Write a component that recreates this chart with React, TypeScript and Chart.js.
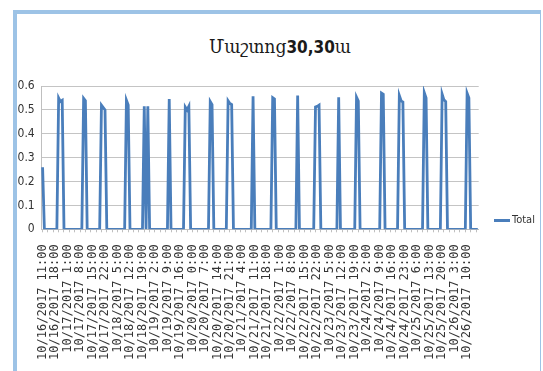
import { useEffect, useRef } from 'react';
import { Chart, registerables } from 'chart.js';

Chart.register(...registerables);

const TITLE_TEXT = 'Մաշտոց';
const TITLE_NUM = '30,30';
const TITLE_SUFFIX = 'ա';
const SERIES_NAME = 'Total';

// Visible category labels (one every 7 hourly categories)
const TICK_LABELS = [
  '10/16/2017 11:00', '10/16/2017 18:00', '10/17/2017 1:00', '10/17/2017 8:00',
  '10/17/2017 15:00', '10/17/2017 22:00', '10/18/2017 5:00', '10/18/2017 12:00',
  '10/18/2017 19:00', '10/19/2017 2:00', '10/19/2017 9:00', '10/19/2017 16:00',
  '10/20/2017 0:00', '10/20/2017 7:00', '10/20/2017 14:00', '10/20/2017 21:00',
  '10/21/2017 4:00', '10/21/2017 11:00', '10/21/2017 18:00', '10/22/2017 1:00',
  '10/22/2017 8:00', '10/22/2017 15:00', '10/22/2017 22:00', '10/23/2017 5:00',
  '10/23/2017 12:00', '10/23/2017 19:00', '10/24/2017 2:00', '10/24/2017 9:00',
  '10/24/2017 16:00', '10/24/2017 23:00', '10/25/2017 6:00', '10/25/2017 13:00',
  '10/25/2017 20:00', '10/26/2017 3:00', '10/26/2017 10:00',
];
const LABEL_EVERY = 7;

const Y_TICKS = ['0', '0.1', '0.2', '0.3', '0.4', '0.5', '0.6'];

// Hourly "Total" values
const TOTAL = [
  0.26, 0, 0, 0, 0, 0, 0, 0, 0, 0.55,
  0.535, 0.54, 0, 0, 0, 0, 0, 0, 0, 0,
  0, 0, 0, 0.548, 0.538, 0, 0, 0, 0, 0,
  0, 0, 0, 0.52, 0.51, 0.5, 0, 0, 0, 0,
  0, 0, 0, 0, 0, 0, 0, 0.54, 0.52, 0,
  0, 0, 0, 0, 0, 0, 0, 0.515, 0, 0.515,
  0, 0, 0, 0, 0, 0, 0, 0, 0, 0,
  0, 0.545, 0, 0, 0, 0, 0, 0, 0, 0,
  0.512, 0.5, 0.515, 0, 0, 0, 0, 0, 0, 0,
  0, 0, 0, 0, 0.535, 0.522, 0, 0, 0, 0,
  0, 0, 0, 0, 0.538, 0.527, 0.522, 0, 0, 0,
  0, 0, 0, 0, 0, 0, 0, 0, 0.557, 0,
  0, 0, 0, 0, 0, 0, 0, 0, 0, 0.551,
  0.546, 0, 0, 0, 0, 0, 0, 0, 0, 0,
  0, 0, 0, 0.56, 0, 0, 0, 0, 0, 0,
  0, 0, 0, 0.512, 0.515, 0.52, 0, 0, 0, 0,
  0, 0, 0, 0, 0, 0, 0.553, 0, 0, 0,
  0, 0, 0, 0, 0, 0, 0.553, 0.537, 0, 0,
  0, 0, 0, 0, 0, 0, 0, 0, 0, 0,
  0.57, 0.565, 0, 0, 0, 0, 0, 0, 0, 0,
  0.56, 0.538, 0.533, 0, 0, 0, 0, 0, 0, 0,
  0, 0, 0, 0, 0.572, 0.55, 0, 0, 0, 0,
  0, 0, 0, 0, 0.566, 0.542, 0.535, 0, 0, 0,
  0, 0, 0, 0, 0, 0, 0, 0, 0.57, 0.55,
  0, 0, 0, 0, 0,
];

const LINE_COLOR = '#4A7EBB';
const FRAME_COLOR = '#9DC3E6';
const TEXT_COLOR = '#333333';
const GRID_COLOR = '#c4c4c4';

export default function App() {
  const ref = useRef<HTMLCanvasElement>(null);

  useEffect(() => {
    const labels = TOTAL.map((_, i) =>
      i % LABEL_EVERY === 0 && TICK_LABELS[i / LABEL_EVERY] ? TICK_LABELS[i / LABEL_EVERY] : ''
    );
    const chart = new Chart(ref.current as HTMLCanvasElement, {
      type: 'line',
      data: {
        labels,
        datasets: [
          {
            label: SERIES_NAME,
            data: TOTAL,
            borderColor: LINE_COLOR,
            backgroundColor: LINE_COLOR,
            borderWidth: 2.8,
            pointRadius: 0,
            tension: 0,
            fill: false,
          },
        ],
      },
      options: {
        responsive: false,
        animation: false,
        devicePixelRatio: 1,
        layout: { padding: { top: 86, right: 64.3, bottom: 0, left: 0 } },
        plugins: {
          legend: { display: false },
          title: { display: false },
          tooltip: { enabled: false },
        },
        scales: {
          x: {
            type: 'category',
            offset: true,
            grid: {
              drawOnChartArea: false,
              drawTicks: true,
              tickLength: 3,
              color: (ctx: any) => (ctx.index % 3 === 0 ? '#bfbfbf' : 'rgba(0,0,0,0)'),
            },
            border: { display: true, color: '#bfbfbf' },
            ticks: {
              autoSkip: false,
              maxRotation: 90,
              minRotation: 90,
              padding: 12,
              color: TEXT_COLOR,
              font: { family: 'DejaVu Sans Mono', size: 12 },
            },
            afterFit: (s: any) => {
              s.height = 141.7;
            },
          },
          y: {
            min: 0,
            max: 0.6,
            ticks: {
              stepSize: 0.1,
              padding: 7,
              color: TEXT_COLOR,
              font: { family: 'DejaVu Sans Condensed', size: 12 },
              callback: (_v: any, i: number) => Y_TICKS[i],
            },
            grid: { color: GRID_COLOR, drawTicks: false, lineWidth: 1 },
            border: { display: true, color: '#bfbfbf' },
            afterFit: (s: any) => {
              s.width = 41.7;
            },
          },
        },
      },
    });
    return () => chart.destroy();
  }, []);

  return (
    <div
      style={{
        position: 'fixed',
        left: 0,
        top: 0,
        width: 543,
        height: 371,
        background: '#fff',
        overflow: 'hidden',
      }}
    >
      <div
        style={{
          position: 'absolute',
          left: 13,
          top: 10,
          width: 528,
          height: 420,
          boxSizing: 'border-box',
          borderLeft: `4.5px solid ${FRAME_COLOR}`,
          borderTop: `4.5px solid ${FRAME_COLOR}`,
          borderRight: `1.5px solid ${FRAME_COLOR}`,
        }}
      />
      <div
        style={{
          position: 'absolute',
          left: 80,
          top: 34,
          width: 400,
          textAlign: 'center',
          lineHeight: '24px',
          color: '#1a1a1a',
          whiteSpace: 'nowrap',
        }}
      >
        <span style={{ fontFamily: 'DejaVu Serif Condensed', fontSize: 19 }}>{TITLE_TEXT}</span>
        <span style={{ fontFamily: 'DejaVu Sans Condensed', fontWeight: 'bold', fontSize: 17 }}>
          {TITLE_NUM}
        </span>
        <span style={{ fontFamily: 'DejaVu Serif Condensed', fontSize: 19 }}>{TITLE_SUFFIX}</span>
      </div>
      <canvas
        ref={ref}
        width={543}
        height={371}
        style={{ position: 'absolute', left: 0, top: 0, width: 543, height: 371 }}
      />
      <div
        style={{
          position: 'absolute',
          left: 494,
          top: 218.5,
          width: 16,
          height: 3,
          background: LINE_COLOR,
        }}
      />
      <div
        style={{
          position: 'absolute',
          left: 512,
          top: 212,
          lineHeight: '16px',
          fontSize: 11,
          fontFamily: 'DejaVu Sans Condensed',
          color: TEXT_COLOR,
          whiteSpace: 'nowrap',
        }}
      >
        {SERIES_NAME}
      </div>
    </div>
  );
}
